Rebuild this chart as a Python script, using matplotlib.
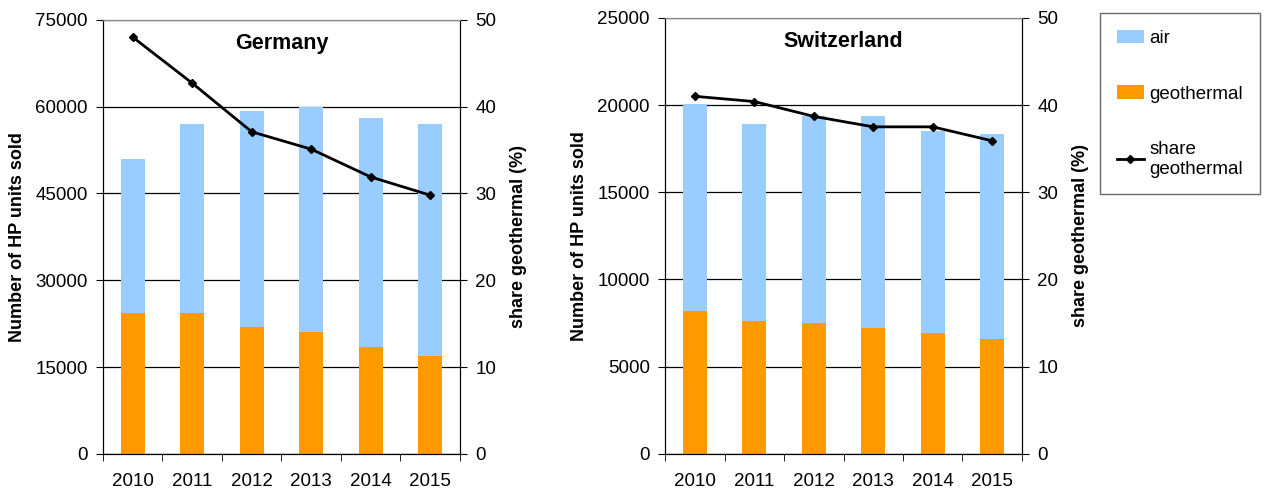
import numpy as np
import matplotlib
matplotlib.use('Agg')
import matplotlib.pyplot as plt
from matplotlib.patches import Patch
from matplotlib.lines import Line2D

plt.rcParams['font.family'] = ['Liberation Sans', 'DejaVu Sans']

years = ['2010', '2011', '2012', '2013', '2014', '2015']

# Germany
de_total = [51000, 57000, 59300, 60000, 58000, 57000]
de_geo = [24400, 24400, 22000, 21100, 18500, 17000]
de_share = [48.0, 42.7, 37.1, 35.1, 31.9, 29.8]

# Switzerland
ch_total = [20050, 18900, 19400, 19350, 18500, 18350]
ch_geo = [8200, 7600, 7500, 7200, 6950, 6600]
ch_share = [41.0, 40.4, 38.7, 37.5, 37.5, 35.9]

air_col = '#99ccff'
geo_col = '#ff9900'

fig = plt.figure(figsize=(12.67, 4.95), dpi=100)


def panel(rect, title, total, geo, share, ymax, ystep):
    ax = fig.add_axes(rect)
    x = np.arange(len(years))
    air = np.array(total) - np.array(geo)
    ax.bar(x, geo, width=0.4, color=geo_col, zorder=2)
    ax.bar(x, air, width=0.4, bottom=geo, color=air_col, zorder=2)
    ax.set_xlim(-0.5, len(years) - 0.5)
    ax.set_ylim(0, ymax)
    ax.set_yticks(np.arange(0, ymax + 1, ystep))
    ax.yaxis.grid(True, color='black', linewidth=0.9, zorder=1)
    ax.set_axisbelow(True)
    ax.set_xticks(x)
    ax.set_xticklabels(years)
    ax.set_xticks(np.arange(-0.5, len(years)), minor=True)
    ax.tick_params(axis='x', which='major', length=0, labelsize=13.5, pad=14)
    ax.tick_params(axis='x', which='minor', length=5, direction='out')
    ax.tick_params(axis='y', labelsize=13.5, length=5, direction='out', pad=6)
    ax.set_ylabel('Number of HP units sold', fontsize=13, fontweight='bold', labelpad=7)
    for s in ax.spines.values():
        s.set_color('black')
    ax.spines['top'].set_color('#888888')

    ax2 = ax.twinx()
    ax2.plot(x, share, color='black', linewidth=2, marker='D', markersize=4, zorder=3)
    ax2.set_ylim(0, 50)
    ax2.set_yticks(np.arange(0, 51, 10))
    ax2.tick_params(axis='y', labelsize=13.5, length=5, direction='out', pad=6)
    ax2.set_ylabel('share geothermal (%)', fontsize=13, fontweight='bold', labelpad=10)
    ax2.spines['top'].set_color('#888888')
    ax.text(0.5, 0.945, title, transform=ax.transAxes, ha='center', va='center',
            fontsize=15.5, fontweight='bold')
    return ax


panel([0.0813, 0.083, 0.2817, 0.877], 'Germany', de_total, de_geo, de_share, 75000, 15000)
panel([0.525, 0.083, 0.2816, 0.881], 'Switzerland', ch_total, ch_geo, ch_share, 25000, 5000)

handles = [Patch(facecolor=air_col, edgecolor='none'),
           Patch(facecolor=geo_col, edgecolor='none'),
           Line2D([0], [0], color='black', linewidth=2, marker='D', markersize=4)]
labels = ['air', 'geothermal', 'share\ngeothermal']
leg = fig.legend(handles, labels, loc='upper left', bbox_to_anchor=(1100 / 1267, 1 - 13 / 495),
                 fontsize=13.5, labelspacing=2.05, handlelength=1.45, handletextpad=0.3,
                 borderpad=0.9, borderaxespad=0, fancybox=False, frameon=True)
leg.get_frame().set_edgecolor('#444444')
leg.get_frame().set_linewidth(1)

fig.savefig('out.png', dpi=100)
